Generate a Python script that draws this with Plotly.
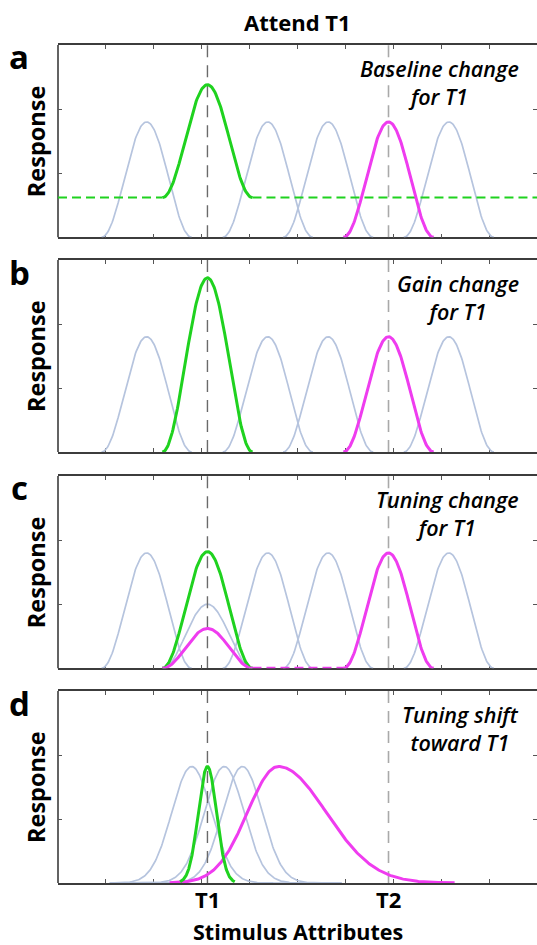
import numpy as np
import plotly.graph_objects as go

# ---- axes (feature-space units) ----
x_ticks = list(range(0, 11))
y_ticks = [1, 2]
x_range = [0, 10]
y_range = [0, 3]

# ---- stimulus positions ----
T1 = 3.12
T2 = 6.90
stim_labels = ["T1", "T2"]

# ---- neural population, panels a-c ----
pop_centers = [1.85, 3.12, 4.38, 5.64, 6.90, 8.16]
pop_halfwidth = 0.94
# per-panel amplitude of each gray curve (None = not drawn)
gray_amps_a = [1.8, None, 1.8, 1.8, 1.8, 1.8]
gray_amps_b = [1.8, None, 1.8, 1.8, 1.8, 1.8]
gray_amps_c = [1.8, 1.0, 1.8, 1.8, 1.8, 1.8]

# a: baseline change
baseline_a = 0.62
green_amp_a = 1.76
magenta_amp_a = 1.8
# b: gain change
green_amp_b = 2.72
magenta_amp_b = 1.8
# c: tuning change
green_amp_c = 1.82
magenta_t1_amp_c = 0.62
magenta_t2_amp_c = 1.8

# d: tuning shift
gray_centers_d = [2.79, 3.47, 3.85]
gray_sigma_d = 0.415
gray_span_d = [1.08, 5.92]
amp_d = 1.82
green_center_d = 3.12
green_sigma_d = 0.19
magenta_peak_d = 4.60
magenta_sigma_left_d = 0.645
magenta_sigma_right_d = 1.0
magenta_span_d = [2.33, 8.28]

panel_letters = ["a", "b", "c", "d"]
panel_notes = ["Baseline change<br>for T1", "Gain change<br>for T1",
               "Tuning change<br>for T1", "Tuning shift<br>toward T1"]

GRAY = "#b6c4de"
GREEN = "#1fd21f"
MAGENTA = "#ef3cef"
FRAME = "#3c3c3c"
FONT = "Open Sans"
ASCENT, DESCENT = 1.069, 0.293  # Open Sans line metrics, in em

W, H = 537, 945
ML, MR, MT, MB = 58, 0, 45, 62
plot_h = H - MT - MB
panel_px = [(45, 237.3), (260, 452), (476, 668.3), (691, 883)]  # top, bottom
domains = [[(H - MB - b) / plot_h, (H - MB - t) / plot_h] for t, b in panel_px]
domains[0][1] = 1.0
domains[3][0] = 0.0


def ypaper(py):
    return (H - MB - py) / plot_h


def bump(center, amp, hw, offset=0.0, n=121):
    x = np.linspace(center - hw, center + hw, n)
    y = offset + amp * 0.5 * (1 + np.cos(np.pi * (x - center) / hw))
    return x, y


def gauss(center, amp, sigma, span, n=301):
    x = np.linspace(span[0], span[1], n)
    return x, amp * np.exp(-0.5 * ((x - center) / sigma) ** 2)


def split_gauss(peak, amp, s_left, s_right, span, n=301):
    x = np.linspace(span[0], span[1], n)
    s = np.where(x < peak, s_left, s_right)
    return x, amp * np.exp(-0.5 * ((x - peak) / s) ** 2)


fig = go.Figure()


def add(i, x, y, color, width, dash="solid"):
    sfx = "" if i == 0 else str(i + 1)
    fig.add_trace(go.Scatter(x=x, y=y, mode="lines", xaxis="x" + sfx, yaxis="y" + sfx,
                             line=dict(color=color, width=width, dash=dash),
                             hoverinfo="skip", showlegend=False))


def add_grays(i, amps):
    for c, a in zip(pop_centers, amps):
        if a is not None:
            x, y = bump(c, a, pop_halfwidth)
            add(i, x, y, GRAY, 1.7)


def add_markers(i):
    add(i, [T1, T1], y_range, "#6a6a6a", 1.4, "12px,8px")
    add(i, [T2, T2], y_range, "#a9a9a9", 1.6, "12px,8px")


# panel a
add_grays(0, gray_amps_a)
add_markers(0)
add(0, [x_range[0], T1 - pop_halfwidth], [baseline_a] * 2, GREEN, 2.0, "9px,5px")
add(0, [T1 + pop_halfwidth, x_range[1]], [baseline_a] * 2, GREEN, 2.0, "9px,5px")
x, y = bump(T1, green_amp_a, pop_halfwidth, baseline_a)
add(0, x, y, GREEN, 3)
x, y = bump(T2, magenta_amp_a, pop_halfwidth)
add(0, x, y, MAGENTA, 3)

# panel b
add_grays(1, gray_amps_b)
add_markers(1)
x, y = bump(T1, green_amp_b, pop_halfwidth)
add(1, x, y, GREEN, 3)
x, y = bump(T2, magenta_amp_b, pop_halfwidth)
add(1, x, y, MAGENTA, 3)

# panel c
add_grays(2, gray_amps_c)
add_markers(2)
x, y = bump(T1, green_amp_c, pop_halfwidth)
add(2, x, y, GREEN, 3)
x, y = bump(T1, magenta_t1_amp_c, pop_halfwidth)
add(2, x, y, MAGENTA, 3)
add(2, [T1 + pop_halfwidth, T2 - pop_halfwidth], [0, 0], MAGENTA, 3, "9px,5px")
x, y = bump(T2, magenta_t2_amp_c, pop_halfwidth)
add(2, x, y, MAGENTA, 3)

# panel d
for c in gray_centers_d:
    x, y = gauss(c, amp_d, gray_sigma_d, gray_span_d)
    add(3, x, y, GRAY, 1.7)
add_markers(3)
x, y = split_gauss(magenta_peak_d, amp_d, magenta_sigma_left_d, magenta_sigma_right_d, magenta_span_d)
add(3, x, y, MAGENTA, 3)
x, y = gauss(green_center_d, amp_d, green_sigma_d,
             [green_center_d - 3 * green_sigma_d, green_center_d + 3 * green_sigma_d])
add(3, x, y, GREEN, 3)

layout = dict(width=W, height=H, margin=dict(l=ML, r=MR, t=MT, b=MB),
              plot_bgcolor="white", paper_bgcolor="white", showlegend=False,
              font=dict(family=FONT, color="black"))
annotations = []
shapes = []
for i in range(4):
    sfx = "" if i == 0 else str(i + 1)
    layout["xaxis" + sfx] = dict(domain=[0, 1], anchor="y" + sfx, range=x_range,
                                 tickvals=x_ticks, showticklabels=False, ticks="inside",
                                 ticklen=4, tickwidth=1, tickcolor="#555",
                                 showline=True, linecolor=FRAME, linewidth=1.6,
                                 mirror="ticks", showgrid=False, zeroline=False,
                                 layer="below traces")
    layout["yaxis" + sfx] = dict(domain=domains[i], anchor="x" + sfx, range=y_range,
                                 tickvals=y_ticks, showticklabels=False, ticks="inside",
                                 ticklen=4, tickwidth=1, tickcolor="#555",
                                 showline=False, mirror="ticks", showgrid=False,
                                 zeroline=False, layer="below traces")
    shapes.append(dict(type="line", xref="x" + sfx + " domain", yref="y" + sfx + " domain",
                       x0=0, x1=0, y0=0, y1=1, layer="below",
                       line=dict(color=FRAME, width=1.6)))
    top, bot = panel_px[i]
    annotations.append(dict(text="<b>%s</b>" % panel_letters[i], xref="paper", yref="paper",
                            x=(19 - ML) / (W - ML), y=ypaper(top + 12),
                            xanchor="center", yanchor="middle", showarrow=False,
                            font=dict(size=33, family=FONT)))
    annotations.append(dict(text="<b>Response</b>", xref="paper", yref="paper",
                            x=(36 - ML) / (W - ML), y=ypaper((top + bot) / 2),
                            xanchor="center", yanchor="middle", textangle=-90,
                            showarrow=False, font=dict(size=23.5, family=FONT)))
    annotations.append(dict(text=panel_notes[i], xref="paper", yref="paper",
                            x=(521 - ML) / (W - ML), y=ypaper(top + 7),
                            xanchor="right", yanchor="top", align="center",
                            showarrow=False,
                            font=dict(size=21.5, family=FONT, style="italic", weight=600)))

# stimulus labels under panel d, placed by their baselines
lab_size, lab_base = 22, 909
for lab, xv in zip(stim_labels, [T1, T2]):
    annotations.append(dict(text="<b>%s</b>" % lab, xref="x4", yref="paper", x=xv,
                            y=ypaper(lab_base + DESCENT * lab_size), xanchor="center",
                            yanchor="bottom", borderpad=0, showarrow=False,
                            font=dict(size=lab_size, family=FONT)))
title_size, title_base = 21.5, 938.6
annotations.append(dict(text="<b>Stimulus Attributes</b>", xref="paper", yref="paper",
                        x=0.5, y=ypaper(title_base - ASCENT * title_size), xanchor="center",
                        yanchor="top", borderpad=0, showarrow=False,
                        font=dict(size=title_size, family=FONT)))
annotations.append(dict(text="<b>Attend T1</b>", xref="paper", yref="paper",
                        x=0.5, y=ypaper(22), xanchor="center",
                        yanchor="middle", showarrow=False, font=dict(size=22, family=FONT)))

layout["annotations"] = annotations
layout["shapes"] = shapes
fig.update_layout(**layout)
fig.write_html("out.html")
